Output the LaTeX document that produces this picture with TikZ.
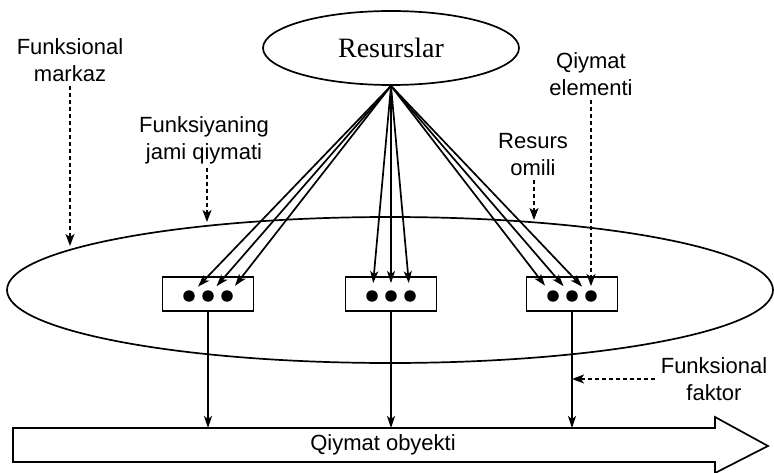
\documentclass[tikz,border=0pt]{standalone}
\usepackage{fontspec}
\setmainfont{Liberation Serif}
\newfontfamily\labelfont{Liberation Sans}
\usetikzlibrary{arrows.meta, calc, positioning, shapes}
\tikzset{
    flow/.style={line width=1.7pt, -{Stealth[length=12pt, width=8pt, inset=3pt]}},
    hint/.style={line width=1.7pt, dash pattern=on 4pt off 3pt, shorten <=4pt,
        -{Stealth[length=12pt, width=9pt, inset=3pt]}},
    elem/.style={circle, fill=black, inner sep=0pt, minimum size=11.5pt},
    cell/.style={draw, line width=1.7pt, minimum width=91pt, minimum height=34pt, inner sep=0pt},
    lbl/.style={font=\labelfont\fontsize{22}{27}\selectfont, align=center, inner sep=0pt}
}

\begin{document}
\begin{tikzpicture}[x=1pt, y=-1pt]
    \def \rowy {296}
    \def \gap {19}
    \useasboundingbox (0,0) rectangle (774,473);
    % resources and the functional centre
    \node[draw, ellipse, line width=1.7pt, minimum width=256pt, minimum height=74pt, inner sep=0pt,
        font=\fontsize{28}{30}\selectfont] (res) at (391,48) {Resurslar};
    \node[draw, ellipse, line width=1.7pt, minimum width=766pt, minimum height=146pt] (centre) at (390,290) {};
    % value elements
    \foreach \b/\x in {l/208, m/391, r/572}{
        \node[cell] (\b) at (\x,294) {};
        \node[elem] (\b1) at (\x-\gap,\rowy) {};
        \node[elem] (\b2) at (\x,\rowy) {};
        \node[elem] (\b3) at (\x+\gap,\rowy) {};
    }
    \foreach \b in {l,m,r}
        \foreach \i in {1,2,3}
            \draw[flow, shorten >=7pt] (res.south) -- (\b\i);
    % value object
    \node[lbl] (obj) at (383,445) {Qiymat obyekti};
    \coordinate (bw) at (13,428);
    \coordinate (be) at (715,428);
    \draw[line width=1.7pt] (bw) -- (be) -- ++(0,-11) -- (768,446) -- ($(be)+(0,45)$)
        -- ($(be)+(0,34)$) -- ($(bw)+(0,34)$) -- cycle;
    \foreach \b in {l,m,r}
        \draw[flow] (\b.south) -- (\b.south |- bw);
    % labels
    \node[lbl] (fm) at (70,60) {Funksional\\markaz};
    \node[lbl] (fj) at (204,140) {Funksiyaning\\jami qiymati};
    \node[lbl] (ro) at (533,155) {Resurs\\omili};
    \node[lbl] (qe) at (591,74) {Qiymat\\elementi};
    \node[lbl] (ff) at (714,379) {Funksional\\faktor};
    \coordinate (fmtip) at (70,246);
    \coordinate (fjtip) at (207,222);
    \coordinate (rotip) at (534,220);
    \draw[hint] (fm.south -| fmtip) -- (fmtip);
    \draw[hint] (fj.south -| fjtip) -- (fjtip);
    \draw[hint] (ro.south -| rotip) -- (rotip);
    \draw[hint, shorten >=4pt] (qe.south -| r3) -- (r3);
    \draw[hint, shorten <=6pt] (ff.west) -- (ff.west -| r.south);
\end{tikzpicture}
\end{document}
